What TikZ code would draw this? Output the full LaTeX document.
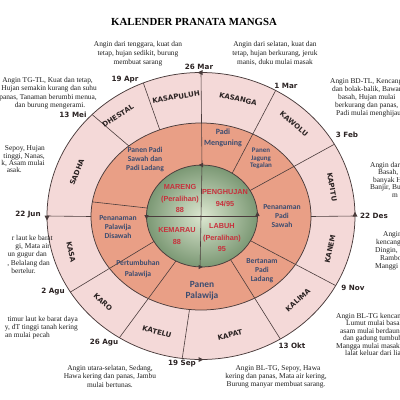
\documentclass[tikz,border=0pt]{standalone}
\usepackage{fontspec}
\setmainfont{Liberation Serif}
\newfontfamily\datefont{DejaVu Sans}
\newfontfamily\actfont{Carlito}
\newfontfamily\grnfont{Liberation Sans}
\definecolor{pinkc}{HTML}{F4D9D8}
\definecolor{salmonc}{HTML}{E99F86}
\definecolor{grnin}{HTML}{DCE7D0}
\definecolor{grnout}{HTML}{7B9874}
\definecolor{lc}{HTML}{4A3C3C}
\definecolor{ringc}{HTML}{2B2323}
\definecolor{actc}{HTML}{3A4C70}
\definecolor{grnc}{HTML}{C8303C}
\definecolor{annoc}{HTML}{1E1E1E}
\newcommand\OP[1]{([shift={(#1:154pt and 143.5pt)}]C)}
\newcommand\MP[1]{([shift={(#1:110pt and 93.5pt)}]M)}
\newcommand\GP[1]{([shift={(#1:55.5pt and 51pt)}]G)}
\begin{document}
\begin{tikzpicture}[x=1pt,y=-1pt,
  anno/.style={font=\fontsize{7.4}{8}\selectfont, text=annoc, inner sep=0pt},
  dat/.style={font=\datefont\bfseries\fontsize{7.2}{8}\selectfont, text=ringc, inner sep=0pt},
  ringname/.style={font=\datefont\bfseries\fontsize{7}{8}\selectfont, text=ringc, inner sep=0pt},
  actv/.style={font=\actfont\bfseries\fontsize{7.6}{9}\selectfont, text=actc, align=center, inner sep=0pt},
  grn/.style={font=\grnfont\bfseries\fontsize{7.3}{11.5}\selectfont, text=grnc, align=center, inner sep=0pt},
  sep/.style={draw=lc, line width=0.6pt},
  rim/.style={draw=lc, line width=0.75pt}]
\useasboundingbox (0,0) rectangle (400,400);
\fill[white] (0,0) rectangle (400,400);
\coordinate (C) at (201,216);
\coordinate (M) at (201,216.5);
\coordinate (G) at (202,216);
% rings
\fill[pinkc] (C) ellipse [x radius=154pt, y radius=143.5pt];
\fill[salmonc] (M) ellipse [x radius=110pt, y radius=93.5pt];
\shade[inner color=grnin, outer color=grnout] (G) ellipse [x radius=55.5pt, y radius=51pt];
% separators
\draw[sep] \GP{90} -- \OP{90};
\draw[sep] \GP{57} -- \OP{61};
\draw[sep] \GP{30} -- \OP{30};
\draw[sep] \MP{0} -- \OP{0};
\draw[sep] \GP{331} -- \OP{331};
\draw[sep] \GP{301} -- \OP{301};
\draw[sep] \MP{264} -- \OP{263};
\draw[sep] \GP{242} -- \OP{238};
\draw[sep] \GP{210} -- \OP{212};
\draw[sep] \MP{180} -- \OP{180};
\draw[sep] \GP{171} -- \MP{171};
\draw[sep] \MP{131} -- \OP{135};
\draw[sep] \MP{112} -- \OP{112};
\draw[sep] \GP{180} -- \GP{0};
\draw[sep] \GP{90} -- \GP{268};
% outlines
\draw[rim] (C) ellipse [x radius=154pt, y radius=143.5pt];
\draw[rim] (M) ellipse [x radius=110pt, y radius=93.5pt];
\draw[rim] (G) ellipse [x radius=55.5pt, y radius=51pt];
% direction marks
\fill[lc] (197.5,72.5) -- (202.5,70) -- (202.5,75) -- cycle;
\fill[lc] (47,220.5) -- (44.5,215.5) -- (49.5,215.5) -- cycle;
\fill[lc] (203.5,359.5) -- (198.5,357) -- (198.5,362) -- cycle;
\fill[lc] (355,211.5) -- (352.5,216.5) -- (357.5,216.5) -- cycle;
\fill[lc] (198.5,165) -- (203,162.8) -- (203,167.2) -- cycle;
\fill[lc] (146.5,219.5) -- (144.3,215) -- (148.7,215) -- cycle;
\fill[lc] (203,267) -- (198.5,264.8) -- (198.5,269.2) -- cycle;
\fill[lc] (257.5,211.5) -- (255.3,216) -- (259.7,216) -- cycle;
% title
\node[font=\bfseries\fontsize{10.8}{12}\selectfont, inner sep=0pt] (title) at (194,22) {KALENDER PRANATA MANGSA};
% dates
\node[dat] (d1) at (199,67) {26 Mar};
\node[dat] (d2) at (125,80) {19 Apr};
\node[dat] (d3) at (73,115) {13 Mei};
\node[dat] (d4) at (28,215) {22 Jun};
\node[dat] (d5) at (53,292) {2 Agu};
\node[dat] (d6) at (104,343) {26 Agu};
\node[dat] (d7) at (182,364) {19 Sep};
\node[dat] (d8) at (292,346) {13 Okt};
\node[dat] (d9) at (353,288) {9 Nov};
\node[dat] (d10) at (374,216) {22 Des};
\node[dat] (d11) at (347,135) {3 Feb};
\node[dat] (d12) at (286,86) {1 Mar};
% mangsa names
\node[ringname, rotate=9] (m10) at (176,97) {KASAPULUH};
\node[ringname, rotate=-13] (m9) at (238,99) {KASANGA};
\node[ringname, rotate=-40] (m8) at (294,124) {KAWOLU};
\node[ringname, rotate=-80] (m7) at (332,187) {KAPITU};
\node[ringname, rotate=78] (m6) at (330,249) {KANEM};
\node[ringname, rotate=42] (m5) at (298,300) {KALIMA};
\node[ringname, rotate=13] (m4) at (230,335) {KAPAT};
\node[ringname, rotate=-15] (m3) at (157,332) {KATELU};
\node[ringname, rotate=-43] (m2) at (103,302) {KARO};
\node[ringname, rotate=-78] (m1) at (71,252) {KASA};
\node[ringname, rotate=68] (m12) at (77,172) {SADHA};
\node[ringname, rotate=33] (m11) at (118,116) {DHESTAL};
% activities
\node[actv, font=\actfont\bfseries\fontsize{8}{11}\selectfont] (a1) at (223,137.5) {Padi\\Menguning};
\node[actv, font=\actfont\bfseries\fontsize{7}{7.8}\selectfont] (a2) at (261,158.5) {Panen\\Jagung\\Tegalan};
\node[actv] (a3) at (282,216) {Penanaman\\Padi\\Sawah};
\node[actv] (a4) at (262,270.5) {Bertanam\\Padi\\Ladang};
\node[actv, font=\actfont\bfseries\fontsize{9.4}{11}\selectfont] (a5) at (202,291) {Panen\\Palawija};
\node[actv, font=\actfont\bfseries\fontsize{7.6}{11}\selectfont] (a6) at (138,269) {Pertumbuhan\\Palawija};
\node[actv] (a7) at (118,227.5) {Penanaman\\Palawija\\Disawah};
\node[actv] (a8) at (145,159.5) {Panen Padi\\Sawah dan\\Padi Ladang};
% seasons
\node[grn] (s1) at (180,198.5) {MARENG\\(Peralihan)\\88};
\node[grn] (s2) at (225,198) {PENGHUJAN\\94/95};
\node[grn] (s3) at (177,236) {KEMARAU\\88};
\node[grn] (s4) at (222,238) {LABUH\\(Peralihan)\\95};
% annotations: top
\node[anno, anchor=mid] (t1) at (138,44) {Angin dari tenggara, kuat dan};
\node[anno, anchor=mid] (t2) at (138,53) {tetap, hujan sedikit, burung};
\node[anno, anchor=mid] (t3) at (138,62) {membuat sarang};
\node[anno, anchor=mid] (u1) at (275,44) {Angin dari selatan, kuat dan};
\node[anno, anchor=mid] (u2) at (275,53) {tetap, hujan berkurang, jeruk};
\node[anno, anchor=mid] (u3) at (275,62) {manis, duku mulai masak};
% left side
\node[anno, anchor=mid east] (l1) at (93,80) {Angin TG-TL, Kuat dan tetap,};
\node[anno, anchor=mid east] (l2) at (97,88.5) {Hujan semakin kurang dan suhu};
\node[anno, anchor=mid east] (l3) at (97,97) {panas, Tanaman berumbi menua,};
\node[anno, anchor=mid] (l4) at (50,105.5) {dan burung mengerami.};
\node[anno, anchor=mid east] (k1) at (45,148) {Sepoy, Hujan};
\node[anno, anchor=mid east] (k2) at (45,155.8) {tinggi, Nanas,};
\node[anno, anchor=mid east] (k3) at (45,163) {k, Asam mulai};
\node[anno, anchor=mid east] (k4) at (22,170.5) {asak.};
\node[anno, anchor=mid east] (j1) at (53,238) {r laut ke barat};
\node[anno, anchor=mid east] (j2) at (50,246) {gi, Mata air};
\node[anno, anchor=mid east] (j3) at (47,254.5) {un gugur dan};
\node[anno, anchor=mid east] (j4) at (50,263) {, Belalang dan};
\node[anno, anchor=mid east] (j5) at (36,271.5) {bertelur.};
\node[anno, anchor=mid east] (i1) at (78,319) {timur laut ke barat daya};
\node[anno, anchor=mid east] (i2) at (78,327) {y, dT tinggi tanah kering};
\node[anno, anchor=mid east] (i3) at (50,335) {an mulai pecah};
% bottom
\node[anno, anchor=mid] (b1) at (110,368) {Angin utara-selatan, Sedang,};
\node[anno, anchor=mid] (b2) at (110,376.5) {Hawa kering dan panas, Jambu};
\node[anno, anchor=mid] (b3) at (110,385) {mulai bertunas.};
\node[anno, anchor=mid] (c1) at (278,368) {Angin BL-TG, Sepoy, Hawa};
\node[anno, anchor=mid] (c2) at (276,376) {kering dan panas, Mata air kering,};
\node[anno, anchor=mid] (c3) at (276,384) {Burung manyar membuat sarang.};
% right side
\node[anno, anchor=mid west] (r1) at (330,81) {Angin BD-TL, Kencang};
\node[anno, anchor=mid west] (r2) at (332,89) {dan bolak-balik, Bawang};
\node[anno, anchor=mid west] (r3) at (338,97) {basah, Hujan mulai};
\node[anno, anchor=mid west] (r4) at (335,105) {berkurang dan panas,};
\node[anno, anchor=mid west] (r5) at (336,113) {Padi mulai menghijau};
\node[anno, anchor=mid west] (q1) at (370,165) {Angin dari};
\node[anno, anchor=mid west] (q2) at (378,172.5) {Basah,};
\node[anno, anchor=mid west] (q3) at (373,180) {banyak H};
\node[anno, anchor=mid west] (q4) at (370,187.5) {Banjir, Bu};
\node[anno, anchor=mid west] (q5) at (392,195) {m};
\node[anno, anchor=mid west] (p1) at (383,234) {Angin};
\node[anno, anchor=mid west] (p2) at (376,242) {kencang};
\node[anno, anchor=mid west] (p3) at (375,250) {Dingin,};
\node[anno, anchor=mid west] (p4) at (380,258) {Rambo};
\node[anno, anchor=mid west] (p5) at (375,266) {Manggi};
\node[anno, anchor=mid west] (o1) at (336,316) {Angin BL-TG kencang};
\node[anno, anchor=mid west] (o2) at (346,323.5) {Lumut mulai basah};
\node[anno, anchor=mid west] (o3) at (340,331) {asam mulai berdaun};
\node[anno, anchor=mid west] (o4) at (343,338.5) {dan gadung tumbuh};
\node[anno, anchor=mid west] (o5) at (336,346) {Mangga mulai masak};
\node[anno, anchor=mid west] (o6) at (345,353.5) {lalat keluar dari liang};
\end{tikzpicture}
\end{document}
